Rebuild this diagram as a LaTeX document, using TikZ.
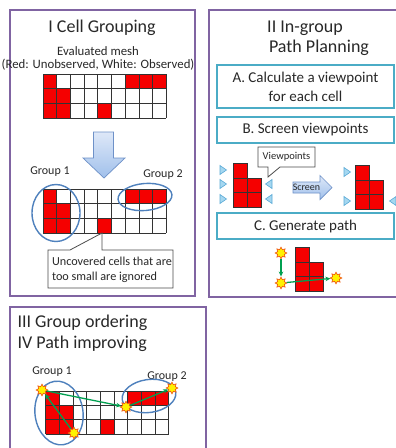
\documentclass[tikz,border=0pt]{standalone}
\usepackage{fontspec}
\setmainfont{Carlito}
\usetikzlibrary{shapes.geometric,arrows.meta}

\definecolor{panelpurple}{RGB}{128,100,162}
\definecolor{boxteal}{RGB}{75,172,198}
\definecolor{grpblue}{RGB}{79,129,189}
\definecolor{pathgreen}{RGB}{0,160,80}
\definecolor{meshred}{RGB}{245,0,0}
\definecolor{arrowtop}{RGB}{222,232,248}
\definecolor{arrowbot}{RGB}{160,192,235}
\definecolor{arrowline}{RGB}{110,145,200}
\definecolor{trifill}{RGB}{165,215,240}
\definecolor{triline}{RGB}{90,170,215}
\definecolor{starline}{RGB}{240,90,20}
\definecolor{inktext}{RGB}{40,40,40}

\tikzset{
  panel/.style={draw=panelpurple, line width=1.8pt},
  stepbox/.style={draw=boxteal, line width=1.8pt, fill=white, minimum width=177pt,
    align=center, font=\fontsize{15}{19}\selectfont},
  ttl/.style={font=\fontsize{18}{21}\selectfont},
  cell/.style={draw=black!80, line width=0.8pt},
  redcell/.style={cell, fill=meshred},
  grp/.style={draw=grpblue, line width=1.4pt},
  grplabel/.style={font=\fontsize{12}{14}\selectfont},
  wpt/.style={star, star points=8, star point ratio=1.6, draw=starline, fill=yellow,
    line width=0.7pt, minimum size=11.5pt, inner sep=0pt},
  hop/.style={pathgreen, line width=1.3pt, -{Stealth[length=5pt, width=4.5pt]}},
  callout/.style={draw=black!70, line width=0.8pt, fill=white},
  blockarrow/.style={draw=arrowline, line width=0.7pt, top color=arrowtop, bottom color=arrowbot},
  vpmark/.style={draw=triline, fill=trifill, line width=0.6pt},
  vpright/.pic={\draw[vpmark] (-3,-4.5) -- (3.5,0) -- (-3,4.5) -- cycle;},
  vpleft/.pic={\draw[vpmark] (3,-4.5) -- (-3.5,0) -- (3,4.5) -- cycle;}
}

% 9x3 evaluated mesh, #1/#2 = top left corner, #3 = row height
\newcommand{\meshgrid}[3]{%
  \begin{scope}[shift={(#1,#2)}, x=13.7pt, y=-#3pt]
    \foreach \col/\row in {0/0,6/0,7/0,8/0,0/1,1/1,0/2,1/2,4/2}
      \fill[meshred] (\col,\row) rectangle +(1,1);
    \foreach \col in {0,...,9} \draw[cell] (\col,0) -- (\col,3);
    \foreach \row in {0,...,3} \draw[cell] (0,\row) -- (9,\row);
  \end{scope}}

\begin{document}
\begin{tikzpicture}[x=1pt, y=-1pt, text=inktext]
    \clip (0,0) rectangle (396,448);
    \fill[white] (0,0) rectangle (396,448);

    % Panel I: cell grouping
    \draw[panel] (10,10) rectangle (195,296);
    \node[ttl] (title1) at (102,28) {I Cell Grouping};
    \node[font=\fontsize{12.8}{13.5}\selectfont, align=center] (meshcap) at (98,58.5)
        {Evaluated mesh\\(Red: Unobserved, White: Observed)};
    \meshgrid{43}{74}{14.7}
    \draw[blockarrow] (93.5,132) -- (113.5,132) -- (113.5,158) -- (125,158)
        -- (104,178) -- (83,158) -- (93.5,158) -- cycle;

    \node[grplabel] (g1a) at (50,172) {Group 1};
    \node[grplabel] (g2a) at (163,175) {Group 2};
    \meshgrid{43}{189}{14.7}
    \draw[grp] (56,213) ellipse [x radius=24, y radius=28.5];
    \draw[grp, rotate around={5:(145,197)}] (145,197) ellipse [x radius=27, y radius=13.5];

    % callout for the ignored cell
    \draw[callout] (48,250) -- (70,250) -- (102,233) -- (102,250) -- (173,250)
        -- (173,288) -- (48,288) -- cycle;
    \node[anchor=west, align=left, font=\fontsize{12.2}{15}\selectfont] (ignored)
        at (48.5,269.5) {Uncovered cells that are\\too small are ignored};

    % Panel II: in-group path planning
    \draw[panel] (209,10) rectangle (402,297);
    \node[ttl] (title2a) at (305,28) {II In-group};
    \node[ttl] (title2b) at (319,48) {Path Planning};
    \node[stepbox, minimum height=43pt] (calcvp) at (305.5,86.5) {A. Calculate a viewpoint\\for each cell};
    \node[stepbox, minimum height=26pt] (screenvp) at (305.5,130) {B. Screen viewpoints};

    % viewpoints before screening
    \draw[redcell] (233,163) rectangle (247,207);
    \draw[redcell] (247,178) rectangle (261,207);
    \draw[cell] (233,178) -- (247,178) (233,192.5) -- (261,192.5);
    \pic at (223,170) {vpright};
    \pic at (223,184) {vpright};
    \pic at (223,199) {vpright};
    \pic at (269,184) {vpleft};
    \pic at (269,199) {vpleft};
    \draw[callout] (258,147) -- (315,147) -- (315,167) -- (280,167) -- (268,177)
        -- (268,167) -- (258,167) -- cycle;
    \node[font=\fontsize{10.5}{12}\selectfont] (vplabel) at (286.5,157) {Viewpoints};

    \draw[blockarrow] (293,182) -- (320,182) -- (320,175.5) -- (332,187.5)
        -- (320,199.5) -- (320,193) -- (293,193) -- cycle;
    \node[font=\fontsize{10}{12}\selectfont] (screen) at (306.5,187.5) {Screen};

    % viewpoints after screening
    \draw[redcell] (355,165) rectangle (369,209);
    \draw[redcell] (369,180) rectangle (383,209);
    \draw[cell] (355,180) -- (369,180) (355,194.5) -- (383,194.5);
    \pic at (347,172) {vpright};
    \pic at (347,201) {vpright};
    \pic at (393,201) {vpleft};

    \node[stepbox, minimum height=26pt] (genpath) at (305.5,226) {C. Generate path};
    \draw[redcell] (295,247) rectangle (309,291);
    \draw[redcell] (309,262) rectangle (323,291);
    \draw[cell] (295,262) -- (309,262) (295,276.5) -- (323,276.5);
    \node[wpt] (pA) at (281,253) {};
    \node[wpt] (pB) at (281,283) {};
    \node[wpt] (pC) at (336,278) {};
    \draw[hop] (pA) -- (pB);
    \draw[hop] (pB) -- (pC);

    % Panel III/IV: group ordering and path improving
    \draw[panel] (10,307) rectangle (206,452);
    \node[ttl, anchor=west, align=left] (title3) at (14,333.5) {III Group ordering\\IV Path improving};
    \node[grplabel] (g1b) at (52,372) {Group 1};
    \node[grplabel] (g2b) at (167,377) {Group 2};
    \meshgrid{45.5}{391}{14.3}
    \draw[grp, rotate around={8:(59,413)}] (59,413) ellipse [x radius=24, y radius=32];
    \draw[grp, rotate around={8:(149,396)}] (149,396) ellipse [x radius=27, y radius=16.5];
    \node[wpt] (s1) at (42,390) {};
    \node[wpt] (s2) at (74,433) {};
    \node[wpt] (s3) at (126,407) {};
    \node[wpt] (s4) at (172,388) {};
    \draw[hop] (s2) -- (s1);
    \draw[hop] (s1) -- (s3);
    \draw[hop] (s3) -- (s4);

\end{tikzpicture}
\end{document}
